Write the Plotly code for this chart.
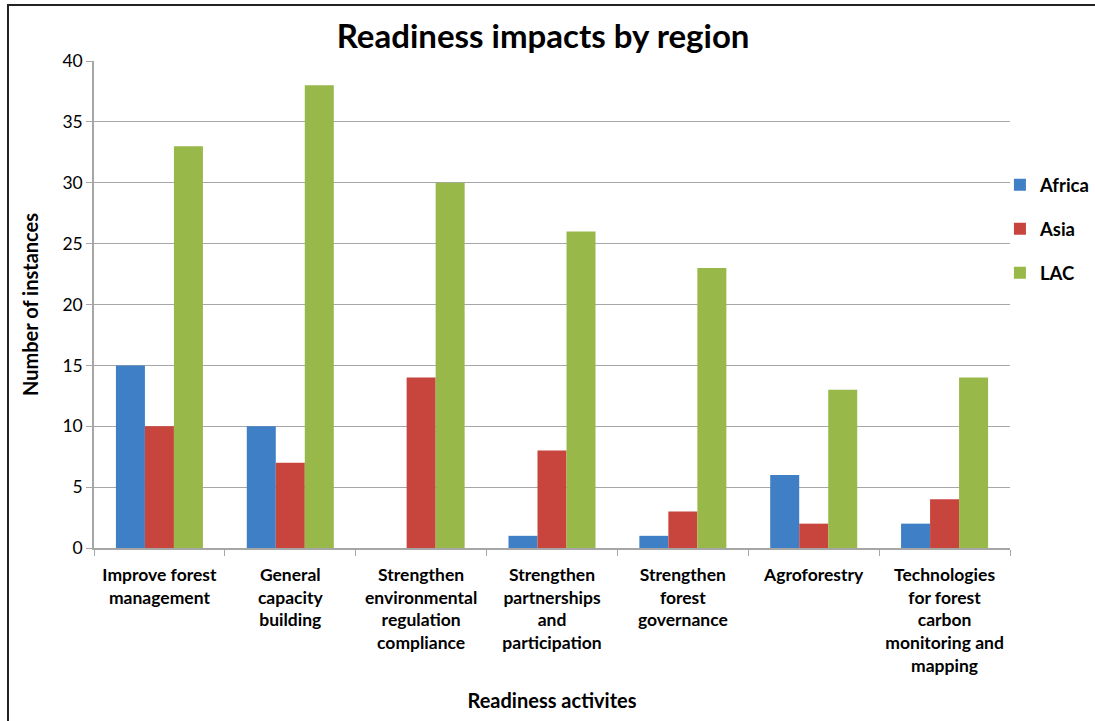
import plotly.graph_objects as go

categories = [
    "Improve forest<br>management",
    "General<br>capacity<br>building",
    "Strengthen<br>environmental<br>regulation<br>compliance",
    "Strengthen<br>partnerships<br>and<br>participation",
    "Strengthen<br>forest<br>governance",
    "Agroforestry",
    "Technologies<br>for forest<br>carbon<br>monitoring and<br>mapping",
]
africa = [15, 10, 0, 1, 1, 6, 2]
asia = [10, 7, 14, 8, 3, 2, 4]
lac = [33, 38, 30, 26, 23, 13, 14]

series = [
    ("Africa", africa, "#3f7fc6"),
    ("Asia", asia, "#c8453d"),
    ("LAC", lac, "#98b94a"),
]

FONT = "Lato, 'Open Sans', sans-serif"

fig = go.Figure()
for name, vals, color in series:
    fig.add_trace(go.Bar(
        name=name, x=categories, y=vals, legendgroup=name,
        marker=dict(color=color, line=dict(width=0)),
    ))

fig.update_layout(
    width=1095, height=721,
    barmode="group", bargap=0.335, bargroupgap=0,
    paper_bgcolor="white", plot_bgcolor="white",
    margin=dict(l=94, r=85, t=61, b=173, autoexpand=False),
    font=dict(family=FONT, color="black"),
    title=dict(
        text="<b>Readiness impacts by region</b>",
        x=0.496, xanchor="center", y=0.95, yanchor="middle",
        font=dict(size=33, family=FONT, color="black"),
    ),
    legend=dict(
        x=0.989, xanchor="left", y=0.784, yanchor="top",
        font=dict(size=18.5, family=FONT, color="black", weight="bold"),
        itemwidth=30, tracegroupgap=17, bgcolor="rgba(0,0,0,0)",
    ),
    showlegend=True,
)
fig.update_xaxes(
    showline=True, linecolor="#a6a6a6", linewidth=1.5,
    ticks="outside", tickson="boundaries", ticklen=6, tickcolor="#a6a6a6",
    ticklabelstandoff=10,
    tickfont=dict(size=17.5, family=FONT, color="black", weight="bold"),
    title=dict(text="<b>Readiness activites</b>", font=dict(size=20, family=FONT), standoff=19),
    showgrid=False, tickangle=0,
)
fig.update_yaxes(
    range=[0, 40], dtick=5,
    showline=True, linecolor="#a6a6a6", linewidth=1.5,
    ticks="outside", ticklen=6, tickcolor="#a6a6a6",
    showgrid=True, gridcolor="#a6a6a6", gridwidth=1.2,
    tickfont=dict(size=17.5, family=FONT, color="black"),
    title=dict(text="<b>Number of instances</b>", font=dict(size=20, family=FONT), standoff=18),
    zeroline=False,
)

# Outer chart frame
fig.add_shape(
    type="rect", xref="paper", yref="paper",
    x0=-0.0939, x1=1.3, y0=-0.6, y1=1.115,
    line=dict(color="#222222", width=2), fillcolor="rgba(0,0,0,0)", layer="above",
)

fig.write_html("out.html")
